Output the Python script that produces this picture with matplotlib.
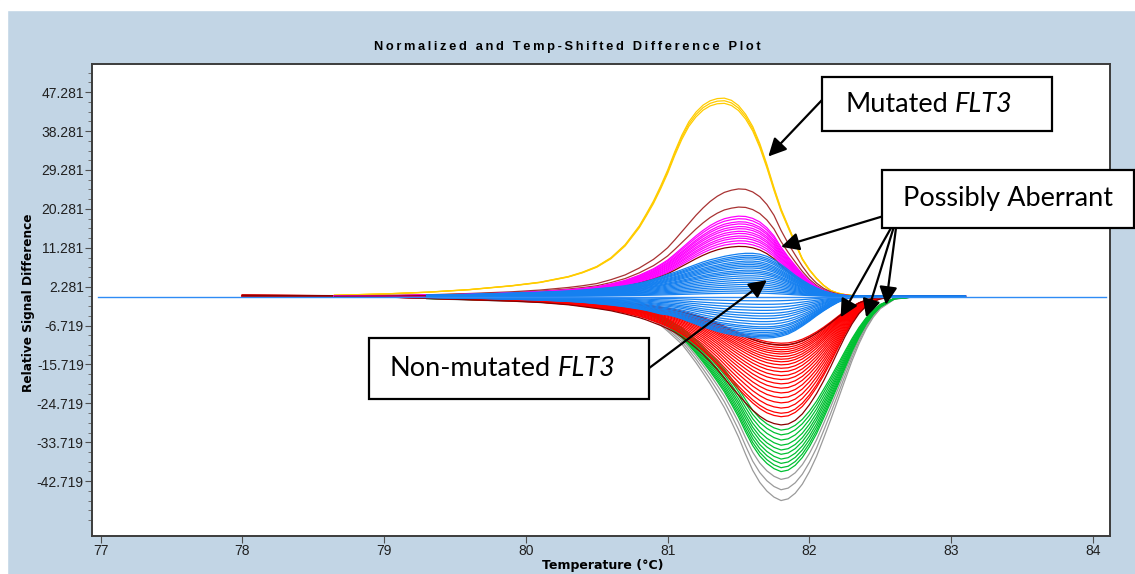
import numpy as np
import matplotlib
matplotlib.use("Agg")
import matplotlib.pyplot as plt
from matplotlib.patches import Rectangle

# ---- data ----
# shared temperature grid of the traces (deg C)
TEMP = [78.0, 78.65, 79.0, 79.3, 79.6, 79.9, 80.1, 80.3, 80.4, 80.5, 80.6, 80.7, 80.8,
        80.85, 80.9, 80.95, 81.0, 81.05, 81.1, 81.15, 81.2, 81.25, 81.3, 81.35, 81.4,
        81.45, 81.5, 81.55, 81.6, 81.65, 81.7, 81.75, 81.8, 81.85, 81.9, 81.95, 82.0,
        82.05, 82.1, 82.15, 82.2, 82.25, 82.3, 82.35, 82.4, 82.45, 82.5, 82.6, 82.75,
        82.9, 83.1]
nan = np.nan

# one reference trace per group (same grid as TEMP)
YELLOW_PROFILE = [nan, 0.3, 0.6, 1.0, 1.6, 2.5, 3.3, 4.6, 5.6, 6.9, 8.9, 11.9, 16.2,
                  19.0, 21.9, 25.3, 29.0, 33.2, 37.0, 40.1, 42.3, 43.9, 44.9, 45.4, 45.5,
                  45.0, 43.8, 41.8, 39.0, 35.1, 30.3, 25.0, 20.1, 16.2, 12.4, 8.7, 6.2,
                  4.2, 2.6, 1.4, 0.8, 0.45, 0.25, 0.12, 0.05, 0.0, 0.0, 0.0, 0.0,
                  0.0, 0.0]
BROWN_PROFILE = [nan, 0.15, 0.25, 0.4, 0.7, 1.1, 1.5, 2.1, 2.5, 3.0, 3.9, 5.0, 6.6,
                 7.6, 8.6, 9.9, 11.3, 13.1, 15.0, 16.9, 18.8, 20.5, 22.0, 23.2, 24.1,
                 24.6, 24.9, 24.8, 24.2, 23.1, 21.3, 18.8, 15.3, 12.3, 9.6, 7.0, 4.8,
                 3.1, 1.9, 1.1, 0.6, 0.35, 0.2, 0.1, 0.05, 0.0, 0.0, 0.0, 0.0,
                 0.0, 0.0]
BLUE_POS_PROFILE = [nan, nan, nan, 0.3, 0.5, 0.8, 1.0, 1.3, 1.5, 1.8, 2.1, 2.5, 3.1,
                    3.5, 4.0, 4.5, 5.1, 5.6, 6.2, 6.8, 7.4, 8.0, 8.5, 8.9, 9.3,
                    9.6, 9.85, 10.0, 10.0, 9.8, 9.3, 8.5, 7.4, 6.2, 4.9, 3.8, 2.8,
                    2.0, 1.3, 0.8, 0.45, 0.25, 0.1, 0.05, 0.0, 0.0, 0.0, 0.0, 0.0,
                    0.0, 0.0]
BLUE_NEG_PROFILE = [nan, nan, nan, -0.2, -0.35, -0.6, -0.8, -1.1, -1.3, -1.6, -1.9, -2.3, -2.8,
                    -3.1, -3.5, -3.9, -4.1, -4.5, -5.0, -5.6, -6.2, -6.8, -7.3, -7.8, -8.2,
                    -8.5, -8.8, -9.0, -9.2, -9.3, -9.3, -9.2, -8.9, -8.4, -7.6, -6.6, -5.5,
                    -4.3, -3.2, -2.2, -1.3, -0.6, -0.2, -0.05, 0.0, 0.0, 0.0, 0.0, 0.0,
                    0.0, 0.0]
RED_PROFILE = [0.3, 0.2, -0.1, -0.4, -0.7, -1.0, -1.3, -1.8, -2.2, -2.6, -3.1, -3.8, -4.6,
               -5.1, -5.7, -6.3, -7.0, -7.8, -8.8, -9.9, -11.2, -12.6, -14.2, -15.9, -17.8,
               -19.7, -21.5, -23.2, -24.8, -26.1, -27.1, -27.7, -28.0, -27.8, -27.0, -25.6, -23.6,
               -21.2, -18.4, -15.3, -12.0, -8.8, -6.0, -3.7, -2.1, -1.1, -0.5, -0.1, 0.0,
               0.0, 0.0]
GRAY_PROFILE = [nan, nan, nan, -0.5, -0.8, -1.1, -1.3, -1.8, -2.2, -2.7, -3.1, -3.5, -4.1,
                -4.6, -5.5, -6.6, -8.0, -9.5, -11.0, -13.1, -15.3, -17.7, -20.2, -22.9, -25.7,
                -29.0, -32.5, -36.5, -40.2, -43.0, -45.0, -46.4, -47.2, -46.8, -45.5, -43.4, -40.5,
                -37.0, -32.8, -28.5, -24.0, -19.4, -14.9, -10.9, -7.5, -4.8, -2.8, -0.6, -0.05,
                0.0, 0.0]

# peak value of every trace in each group
YELLOW_PEAKS = [45.9, 45.3, 44.7]
BROWN_PEAKS = [24.9, 20.7]
DARK_RED_POS_PEAKS = [11.6]
MAGENTA_PEAKS = [18.6, 18.0, 17.3, 16.8, 16.2, 15.7, 15.1, 14.6, 14.0, 13.5, 12.9, 12.3]
BLUE_POS_PEAKS = [10.0, 9.5, 9.1, 8.7, 8.2, 7.8, 7.4, 7.0, 6.6, 6.1, 5.7, 5.3, 4.8, 4.3,
                  3.8, 3.3, 2.8, 2.3, 1.8, 1.3, 0.8]
BLUE_NEG_PEAKS = [-1.0, -1.8, -2.5, -3.2, -3.9, -4.5, -5.1, -5.8, -6.4, -7.0, -7.4, -7.9,
                  -8.3, -8.7, -9.0, -9.3, -9.6]
RED_PEAKS = [-10.8, -11.3, -11.8, -12.3, -12.8, -13.3, -13.9, -14.5, -15.1, -15.8, -16.6,
             -17.4, -18.3, -19.2, -20.2, -21.2, -22.3, -23.4, -24.6, -25.8, -27.0, -27.8]
DARK_RED_NEG_PEAKS = [-11.2, -29.7]
GREEN_PEAKS = [-30.9, -32.0, -33.2, -34.4, -35.5, -36.5, -37.6, -38.6, -39.6, -40.5]
GRAY_PEAKS = [-42.3, -44.7, -47.2]

BASELINE_T = [76.98, 84.09]
BASELINE_Y = [0.0, 0.0]

YTICKS = [47.281, 38.281, 29.281, 20.281, 11.281, 2.281, -6.719, -15.719, -24.719, -33.719, -42.719]
YTICK_LABELS = ["47.281", "38.281", "29.281", "20.281", "11.281", "2.281",
                "-6.719", "-15.719", "-24.719", "-33.719", "-42.719"]
XTICKS = [77, 78, 79, 80, 81, 82, 83, 84]

TITLE = "Normalized and Temp-Shifted Difference Plot"

W, H = 1135, 574
BG = "#c2d5e5"


def fx(px):
    return px / W


def fy(py):
    return 1 - py / H


def draw_group(ax, profile, peaks, color, lw=0.9):
    prof = np.array(profile, dtype=float)
    ref = prof[np.nanargmax(np.abs(prof))]
    for peak in peaks:
        ax.plot(TEMP, prof * (peak / ref), color=color, lw=lw, solid_joinstyle="round")


fig = plt.figure(figsize=(W / 100, H / 100), dpi=100, facecolor=BG)
# white margin on top and left, as in the screenshot
fig.add_artist(Rectangle((0, fy(10)), 1, 10 / H, transform=fig.transFigure,
                         color="white", zorder=-1))
fig.add_artist(Rectangle((0, 0), fx(7), 1, transform=fig.transFigure,
                         color="white", zorder=-1))

ax = fig.add_axes([fx(92), fy(536), fx(1110) - fx(92), fy(64) - fy(536)])
ax.set_facecolor("white")

draw_group(ax, GRAY_PROFILE, GRAY_PEAKS, "#9a9a9a")
draw_group(ax, GRAY_PROFILE, GREEN_PEAKS, "#00c032")
draw_group(ax, RED_PROFILE, RED_PEAKS, "#ff0000")
draw_group(ax, RED_PROFILE, DARK_RED_NEG_PEAKS, "#8b0000")
draw_group(ax, YELLOW_PROFILE, YELLOW_PEAKS, "#ffcc00")
draw_group(ax, BROWN_PROFILE, BROWN_PEAKS, "#a83232")
draw_group(ax, BROWN_PROFILE, MAGENTA_PEAKS, "#ff00ff")
draw_group(ax, BROWN_PROFILE, DARK_RED_POS_PEAKS, "#8b0000")
draw_group(ax, BLUE_NEG_PROFILE, BLUE_NEG_PEAKS, "#1580f0")
draw_group(ax, BLUE_POS_PROFILE, BLUE_POS_PEAKS, "#1580f0")
ax.plot(BASELINE_T, BASELINE_Y, color="#2f8cf5", lw=1.0)

ax.set_xlim(76.94, 84.12)
ax.set_ylim(-55.4, 53.8)
ax.set_xticks(XTICKS)
ax.set_xticklabels([str(t) for t in XTICKS])
ax.set_yticks(YTICKS)
ax.set_yticklabels(YTICK_LABELS)
ax.set_yticks(np.arange(-51.719, 53.0, 2.25), minor=True)
ax.tick_params(axis="both", which="major", direction="out", length=5, width=0.8,
               color="#505050", labelsize=10, labelcolor="#202020", pad=1)
ax.tick_params(axis="y", which="minor", direction="out", length=3, width=0.7, color="#707070")
for lab in ax.get_xticklabels() + ax.get_yticklabels():
    lab.set_family("Liberation Sans")
for sp in ax.spines.values():
    sp.set_color("#3c3c3c")
    sp.set_linewidth(1.4)

# titles and axis labels
fig.text(fx(567), fy(46.7), "\u2009".join(TITLE), ha="center", va="center",
         fontsize=9.3, fontweight="bold", family="Liberation Sans")
fig.text(fx(28.3), fy(303), "Relative Signal Difference", rotation=90, ha="center", va="center",
         fontsize=8.7, fontweight="bold", family="DejaVu Sans")
fig.text(fx(602.5), fy(565.7), "Temperature (\u00b0C)", ha="center", va="center",
         fontsize=9, fontweight="bold", family="DejaVu Sans")

# annotation boxes (pixel extents in the screenshot); second part of label is italic
boxes = [
    ((822, 77, 1052, 131), 845, 104, "Mutated", "FLT3"),
    ((882, 170, 1134, 228), 903, 199, "Possibly Aberrant", ""),
    ((368.5, 338.3, 648.8, 399), 389.6, 368, "Non-mutated", "FLT3"),
]
renderer = fig.canvas.get_renderer()
for (x0, y0, x1, y1), tx, ty, label, gene in boxes:
    fig.add_artist(Rectangle((fx(x0), fy(y1)), fx(x1) - fx(x0), fy(y0) - fy(y1),
                             transform=fig.transFigure, facecolor="white",
                             edgecolor="black", lw=1.6, zorder=5))
    t = fig.text(fx(tx), fy(ty), label, ha="left", va="center", fontsize=19.5,
                 family="Lato", color="black", zorder=6)
    if gene:
        bb = t.get_window_extent(renderer=renderer)
        fig.text(fx(bb.x1 + 6.5), fy(ty), gene, ha="left", va="center", fontsize=19.5,
                 family="Lato", style="italic", color="black", zorder=6)

# arrows: tip in data coordinates, tail at box edge
arrows = [
    ((81.71, 32.4), (822, 100)),
    ((81.80, 11.5), (901.4, 210.7)),
    ((82.22, -4.8), (891, 228)),
    ((82.40, -4.8), (893.5, 228)),
    ((82.54, -1.9), (896, 228)),
    ((81.70, 3.8), (648.8, 368.3)),
]
for tip, (tx, ty) in arrows:
    ax.annotate("", xy=tip, xycoords="data", xytext=(fx(tx), fy(ty)),
                textcoords="figure fraction", annotation_clip=False,
                arrowprops=dict(arrowstyle="-|>,head_length=0.6,head_width=0.3",
                                mutation_scale=18, lw=1.6, color="black",
                                shrinkA=0, shrinkB=0))

fig.savefig("out.png", dpi=100, facecolor=fig.get_facecolor())
